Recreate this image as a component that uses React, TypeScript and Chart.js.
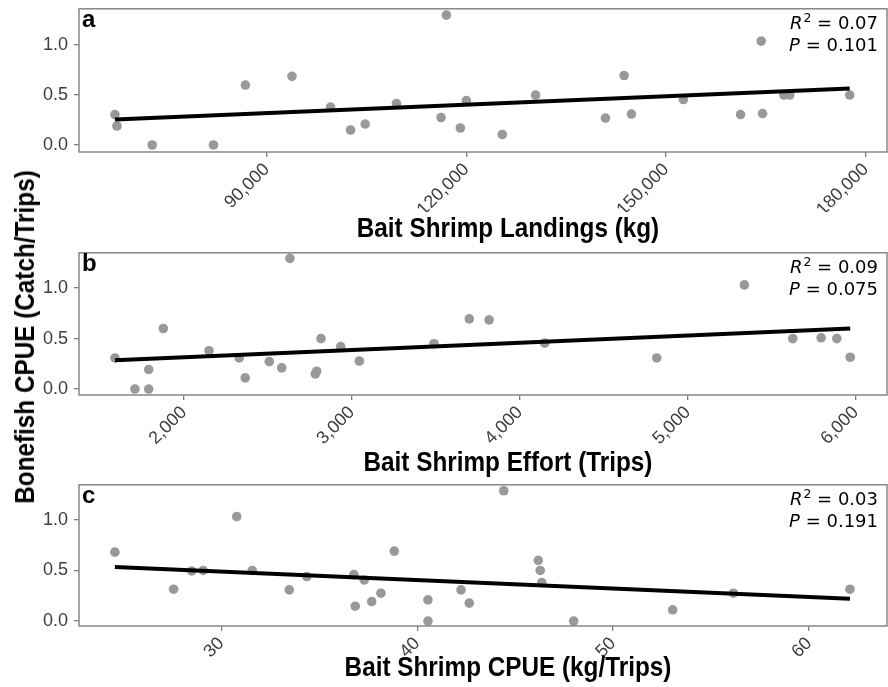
import React, { useEffect, useRef } from "react";
import { Chart, registerables } from "chart.js";

Chart.register(...registerables);

// ---------- data ----------
const landingsX = [67200, 67500, 72800, 82000, 86800, 93800, 99600, 102600, 104800, 109500, 116200, 117000, 119100, 120000, 125400, 130400, 140900, 143700, 144800, 152600, 161200, 164300, 164500, 167700, 168600, 177600];
const landingsY = [0.305, 0.19, 0.0, 0.0, 0.6, 0.687, 0.38, 0.15, 0.21, 0.415, 0.275, 1.3, 0.17, 0.445, 0.105, 0.5, 0.27, 0.695, 0.31, 0.455, 0.305, 1.04, 0.315, 0.5, 0.5, 0.5];
const landingsFitX = [67200, 177600];
const landingsFitY = [0.255, 0.565];
const landingsTicks = [90000, 120000, 150000, 180000];

const effortX = [1589, 1708, 1790, 1790, 1877, 2149, 2329, 2365, 2508, 2582, 2631, 2782, 2790, 2816, 2933, 3044, 3489, 3699, 3817, 4148, 4815, 5337, 5625, 5794, 5887, 5967];
const effortY = [0.308, 0.0, 0.193, 0.0, 0.6, 0.38, 0.308, 0.111, 0.272, 0.21, 1.295, 0.15, 0.177, 0.5, 0.42, 0.278, 0.449, 0.695, 0.685, 0.455, 0.308, 1.032, 0.5, 0.508, 0.5, 0.315];
const effortFitX = [1589, 5967];
const effortFitY = [0.285, 0.6];
const effortTicks = [2000, 3000, 4000, 5000, 6000];

const shrimpCpueX = [24.57, 27.57, 28.49, 29.08, 30.79, 31.58, 33.47, 34.37, 36.77, 36.84, 37.3, 37.68, 38.15, 38.83, 40.55, 40.55, 42.24, 42.66, 44.42, 46.18, 46.28, 46.36, 47.99, 53.04, 56.14, 62.09];
const shrimpCpueY = [0.681, 0.315, 0.495, 0.5, 1.032, 0.5, 0.308, 0.44, 0.459, 0.147, 0.406, 0.193, 0.275, 0.691, 0.21, 0.0, 0.308, 0.177, 1.288, 0.6, 0.5, 0.38, 0.0, 0.111, 0.275, 0.315];
const shrimpCpueFitX = [24.57, 62.09];
const shrimpCpueFitY = [0.534, 0.22];
const shrimpCpueTicks = [30, 40, 50, 60];

const yTicks = [0, 0.5, 1.0];
const panelLabels = ["a", "b", "c"];
const r2Values = ["0.07", "0.09", "0.03"];
const pValues = ["0.101", "0.075", "0.191"];
const xTitles = ["Bait Shrimp Landings (kg)", "Bait Shrimp Effort (Trips)", "Bait Shrimp CPUE (kg/Trips)"];
const yTitle = "Bonefish CPUE (Catch/Trips)";

// ---------- layout ----------
const W = 888;
const PLOT_LEFT = 79;
const PLOT_RIGHT = 887;
const AXIS_H = 60;
const TOP_GAP = 16; // space Chart.js keeps above the chart area

type PanelCfg = {
  xs: number[];
  ys: number[];
  fitX: number[];
  fitY: number[];
  xTicks: number[];
  xMin: number;
  xMax: number;
  yMin: number;
  yMax: number;
  plotTop: number;
  plotBottom: number;
  label: string;
  r2: string;
  p: string;
  fmt: (v: number) => string;
};

const fmtThousands = (v: number) => v.toLocaleString("en-US");
const fmtPlain = (v: number) => String(v);

const panels: PanelCfg[] = [
  { xs: landingsX, ys: landingsY, fitX: landingsFitX, fitY: landingsFitY, xTicks: landingsTicks, xMin: 61800, xMax: 183200, yMin: -0.07, yMax: 1.363, plotTop: 8, plotBottom: 152, label: panelLabels[0], r2: r2Values[0], p: pValues[0], fmt: fmtThousands },
  { xs: effortX, ys: effortY, fitX: effortFitX, fitY: effortFitY, xTicks: effortTicks, xMin: 1375, xMax: 6186, yMin: -0.059, yMax: 1.35, plotTop: 252, plotBottom: 395, label: panelLabels[1], r2: r2Values[1], p: pValues[1], fmt: fmtThousands },
  { xs: shrimpCpueX, ys: shrimpCpueY, fitX: shrimpCpueFitX, fitY: shrimpCpueFitY, xTicks: shrimpCpueTicks, xMin: 22.74, xMax: 63.98, yMin: -0.049, yMax: 1.347, plotTop: 484, plotBottom: 626, label: panelLabels[2], r2: r2Values[2], p: pValues[2], fmt: fmtPlain },
];

const xTitleCenters = [228, 462, 667];

const BORDER = "#7f7f7f";
const TICK_TEXT = "#3d3d3d";

const decorPlugin = {
  id: "decor",
  afterDraw(chart: any, _args: any, opts: any) {
    const { ctx, chartArea: ca } = chart;
    ctx.save();
    // panel border
    ctx.strokeStyle = BORDER;
    ctx.lineWidth = 1.4;
    ctx.strokeRect(ca.left, ca.top, ca.right - ca.left, ca.bottom - ca.top);

    // panel letter
    ctx.fillStyle = "#000";
    ctx.textAlign = "left";
    ctx.textBaseline = "alphabetic";
    ctx.font = 'bold 24px "Liberation Sans"';
    ctx.fillText(opts.label, ca.left + 3, ca.top + 18.5);

    // R^2 and P annotation
    const right = ca.right - 9;
    const fI = 'italic 18px "DejaVu Sans"';
    const fN = '18px "DejaVu Sans"';
    const fS = '12.5px "DejaVu Sans"';
    const y1 = ca.top + 20;
    const y2 = ca.top + 42;

    ctx.font = fN;
    const rest1 = " = " + opts.r2;
    const w3 = ctx.measureText(rest1).width;
    ctx.font = fS;
    const w2 = ctx.measureText("2").width;
    ctx.font = fI;
    const w1 = ctx.measureText("R").width;
    let x = right - (w1 + w2 + 1 + w3);
    ctx.fillText("R", x, y1);
    ctx.font = fS;
    ctx.fillText("2", x + w1 + 1, y1 - 7);
    ctx.font = fN;
    ctx.fillText(rest1, x + w1 + w2 + 1, y1);

    const rest2 = " = " + opts.p;
    ctx.font = fN;
    const v3 = ctx.measureText(rest2).width;
    ctx.font = fI;
    const v1 = ctx.measureText("P").width;
    x = right - (v1 + v3);
    ctx.fillText("P", x, y2);
    ctx.font = fN;
    ctx.fillText(rest2, x + v1, y2);
    ctx.restore();
  },
};

function Panel({ cfg }: { cfg: PanelCfg }) {
  const ref = useRef<HTMLCanvasElement | null>(null);
  const canvasTop = cfg.plotTop - TOP_GAP;
  const canvasH = cfg.plotBottom - canvasTop + AXIS_H;

  useEffect(() => {
    if (!ref.current) return;
    const points = cfg.xs.map((x, i) => ({ x, y: cfg.ys[i] }));
    const fit = cfg.fitX.map((x, i) => ({ x, y: cfg.fitY[i] }));
    const chart = new Chart(ref.current, {
      type: "scatter",
      data: {
        datasets: [
          {
            type: "line",
            data: fit,
            borderColor: "#000",
            borderWidth: 4,
            pointRadius: 0,
            fill: false,
          } as any,
          {
            type: "scatter",
            data: points,
            backgroundColor: "#999999",
            borderWidth: 0,
            pointRadius: 4.8,
            pointHoverRadius: 4.8,
          } as any,
        ],
      },
      options: {
        responsive: false,
        animation: false,
        events: [],
        layout: {
          autoPadding: false,
          padding: { left: 0, top: 0, right: W - PLOT_RIGHT, bottom: 0 },
        },
        plugins: {
          legend: { display: false },
          tooltip: { enabled: false },
          decor: { label: cfg.label, r2: cfg.r2, p: cfg.p },
        } as any,
        scales: {
          x: {
            type: "linear",
            min: cfg.xMin,
            max: cfg.xMax,
            border: { display: false },
            grid: { display: true, drawOnChartArea: false, drawTicks: true, tickLength: 5, color: BORDER, lineWidth: 1.3 },
            afterBuildTicks: (scale: any) => {
              scale.ticks = cfg.xTicks.map((v) => ({ value: v }));
            },
            afterFit: (scale: any) => {
              scale.height = AXIS_H;
            },
            ticks: {
              autoSkip: false,
              minRotation: 45,
              maxRotation: 45,
              padding: 2,
              color: TICK_TEXT,
              font: { family: "Liberation Sans", size: 18 },
              callback: (v: any) => cfg.fmt(Number(v)),
            },
          },
          y: {
            type: "linear",
            min: cfg.yMin,
            max: cfg.yMax,
            border: { display: false },
            grid: { display: true, drawOnChartArea: false, drawTicks: true, tickLength: 5, color: BORDER, lineWidth: 1.3 },
            afterBuildTicks: (scale: any) => {
              scale.ticks = yTicks.map((v) => ({ value: v }));
            },
            afterFit: (scale: any) => {
              scale.width = PLOT_LEFT;
            },
            ticks: {
              autoSkip: false,
              padding: 6,
              color: TICK_TEXT,
              font: { family: "Liberation Sans", size: 18 },
              callback: (v: any) => Number(v).toFixed(1),
            },
          },
        },
      },
      plugins: [decorPlugin],
    });
    return () => chart.destroy();
  }, []);

  return (
    <canvas
      ref={ref}
      width={W}
      height={canvasH}
      style={{ position: "absolute", left: 0, top: canvasTop, width: W, height: canvasH }}
    />
  );
}

export default function App() {
  return (
    <div style={{ position: "fixed", left: 0, top: 0, width: W, height: 687, background: "#fff", overflow: "hidden" }}>
      {panels.map((p, i) => (
        <Panel key={i} cfg={p} />
      ))}
      {xTitles.map((t, i) => (
        <div
          key={t}
          style={{
            position: "absolute",
            left: 508,
            top: xTitleCenters[i],
            transform: "translate(-50%, -50%) scaleX(0.9)",
            font: 'bold 27px "Liberation Sans"',
            lineHeight: "30px",
            whiteSpace: "nowrap",
            color: "#000",
          }}
        >
          {t}
        </div>
      ))}
      <div
        style={{
          position: "absolute",
          left: 25,
          top: 337,
          transform: "translate(-50%, -50%) rotate(-90deg) scaleX(0.9)",
          font: 'bold 27px "Liberation Sans"',
          lineHeight: "30px",
          whiteSpace: "nowrap",
          color: "#000",
        }}
      >
        {yTitle}
      </div>
    </div>
  );
}
